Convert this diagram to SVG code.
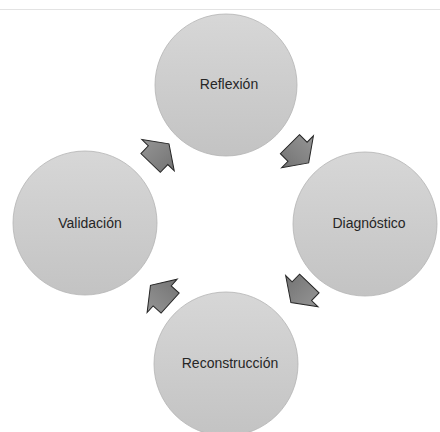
<svg xmlns="http://www.w3.org/2000/svg" xmlns:xlink="http://www.w3.org/1999/xlink" width="440" height="432" viewBox="0 0 440 432">
  <defs>
    <linearGradient id="nodeFill" x1="0" y1="0" x2="0" y2="1">
      <stop offset="0" stop-color="#d7d7d7"/>
      <stop offset="1" stop-color="#c3c3c3"/>
    </linearGradient>
    <linearGradient id="arrowFill" x1="0" y1="0" x2="0" y2="1">
      <stop offset="0" stop-color="#959595"/>
      <stop offset="1" stop-color="#737373"/>
    </linearGradient>
    <!-- block arrow pointing along +x, centred on the origin -->
    <polygon id="cycleArrow" points="-13.25,-13.5 -2.5,-13.5 -2.5,-22.5 13.25,0 -2.5,22.5 -2.5,13.5 -13.25,13.5"/>
  </defs>
  <style>
    .node circle { fill: url(#nodeFill); stroke: #b4b4b4; stroke-width: 0.8; }
    .node text { font-family: "Liberation Sans", Arial, sans-serif; font-size: 14px; fill: #262626; text-anchor: middle; }
    .arrow { fill: url(#arrowFill); stroke: #262626; stroke-width: 1; stroke-linejoin: miter; }
  </style>

  <rect width="440" height="432" fill="#ffffff"/>
  <line x1="0" y1="9.5" x2="440" y2="9.5" stroke="#e3e3e3" stroke-width="1"/>

  <g id="connectors">
    <use xlink:href="#cycleArrow" class="arrow" transform="translate(159.8 153.4) rotate(-46)"/>
    <use xlink:href="#cycleArrow" class="arrow" transform="translate(299.3 153.5) rotate(45)"/>
    <use xlink:href="#cycleArrow" class="arrow" transform="translate(300.1 293) rotate(134)"/>
    <use xlink:href="#cycleArrow" class="arrow" transform="translate(160.3 294.2) rotate(222)"/>
  </g>

  <g id="node-reflexion" class="node">
    <circle cx="226" cy="85" r="71"/>
    <text x="229" y="89">Reflexión</text>
  </g>
  <g id="node-diagnostico" class="node">
    <circle cx="365" cy="224" r="72"/>
    <text x="369" y="228">Diagnóstico</text>
  </g>
  <g id="node-reconstruccion" class="node">
    <circle cx="226" cy="364" r="72"/>
    <text x="230" y="368">Reconstrucción</text>
  </g>
  <g id="node-validacion" class="node">
    <circle cx="85" cy="223" r="72"/>
    <text x="90" y="228">Validación</text>
  </g>
</svg>
